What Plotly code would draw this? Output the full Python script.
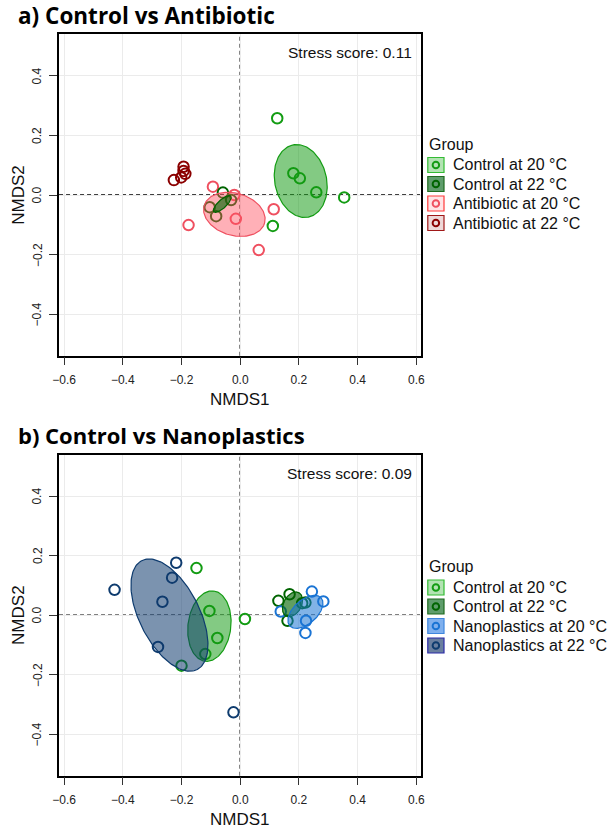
import numpy as np
import plotly.graph_objects as go

W, H = 612, 831

# ---------------- DATA ----------------
groups_a = ["Antibiotic at 20 °C", "Antibiotic at 22 °C", "Control at 20 °C", "Control at 22 °C"]
groups_b = ["Control at 20 °C", "Control at 22 °C", "Nanoplastics at 20 °C", "Nanoplastics at 22 °C"]

# Panel a points
a_ctrl20_x = [0.126, 0.181, 0.203, 0.259, 0.354, 0.111]
a_ctrl20_y = [0.258, 0.073, 0.056, 0.009, -0.008, -0.104]
a_ctrl22_x = [-0.104, -0.082, -0.059, -0.031]
a_ctrl22_y = [-0.041, -0.071, 0.008, -0.017]
a_anti20_x = [-0.093, -0.176, -0.015, -0.020, 0.114, 0.063]
a_anti20_y = [0.028, -0.101, -0.080, 0.000, -0.048, -0.185]
a_anti22_x = [-0.226, -0.201, -0.193, -0.193, -0.187]
a_anti22_y = [0.050, 0.059, 0.095, 0.081, 0.071]

# Panel b points
b_ctrl20_x = [-0.149, -0.105, -0.078, -0.200, 0.016, -0.119]
b_ctrl20_y = [0.158, 0.014, -0.077, -0.170, -0.013, -0.131]
b_ctrl22_x = [0.130, 0.168, 0.161, 0.211, 0.222]
b_ctrl22_y = [0.048, 0.070, -0.019, 0.040, 0.042]
b_nano20_x = [0.244, 0.283, 0.138, 0.224, 0.222]
b_nano20_y = [0.079, 0.046, 0.012, -0.019, -0.060]
b_nano22_x = [-0.218, -0.232, -0.428, -0.265, -0.280, -0.023]
b_nano22_y = [0.176, 0.126, 0.085, 0.045, -0.107, -0.327]

# Ellipse parameters: group, centre x, centre y, semi-axis a, semi-axis b, angle (deg)
ell_a_group = ["Antibiotic at 20 °C", "Control at 20 °C", "Control at 22 °C"]
ell_a_cx = [-0.020, 0.206, -0.061]
ell_a_cy = [-0.065, 0.047, -0.030]
ell_a_ra = [0.107, 0.124, 0.039]
ell_a_rb = [0.071, 0.088, 0.014]
ell_a_ang = [-15.7, 103.0, 42.0]

ell_b_group = ["Control at 20 °C", "Control at 22 °C", "Nanoplastics at 20 °C", "Nanoplastics at 22 °C"]
ell_b_cx = [-0.105, 0.178, 0.222, -0.241]
ell_b_cy = [-0.037, 0.036, 0.011, 0.000]
ell_b_ra = [0.119, 0.045, 0.071, 0.206]
ell_b_rb = [0.073, 0.030, 0.040, 0.102]
ell_b_ang = [83.0, 60.0, 41.0, -62.6]

stress_a = "Stress score: 0.11"
stress_b = "Stress score: 0.09"

x_ticks = [-0.6, -0.4, -0.2, 0.0, 0.2, 0.4, 0.6]
y_ticks = [-0.4, -0.2, 0.0, 0.2, 0.4]

# ---------------- STYLE ----------------
line_col = {
    "Control at 20 °C": "#139c13",
    "Control at 22 °C": "#006400",
    "Antibiotic at 20 °C": "#ef5060",
    "Antibiotic at 22 °C": "#8b0000",
    "Nanoplastics at 20 °C": "#1a74d4",
    "Nanoplastics at 22 °C": "#0e3b6e",
}
fill_col = {
    "Control at 20 °C": "rgba(17,154,17,0.52)",
    "Control at 22 °C": "rgba(0,100,0,0.62)",
    "Antibiotic at 20 °C": "rgba(255,80,95,0.45)",
    "Antibiotic at 22 °C": "rgba(139,0,0,0.5)",
    "Nanoplastics at 20 °C": "rgba(26,116,212,0.55)",
    "Nanoplastics at 22 °C": "rgba(14,59,110,0.55)",
}
key_fill = {
    "Control at 20 °C": "#b3e3b3",
    "Control at 22 °C": "#5f9d6c",
    "Antibiotic at 20 °C": "#ffe4e6",
    "Antibiotic at 22 °C": "#eed8d8",
    "Nanoplastics at 20 °C": "#7fb0ee",
    "Nanoplastics at 22 °C": "#6a7f9f",
}
key_border = {
    "Control at 20 °C": "#33bb33",
    "Control at 22 °C": "#1f6b1f",
    "Antibiotic at 20 °C": "#ff3a3a",
    "Antibiotic at 22 °C": "#a01818",
    "Nanoplastics at 20 °C": "#3f86de",
    "Nanoplastics at 22 °C": "#2b2ba8",
}

FONT = "Liberation Sans, Arial, sans-serif"


def px_x(px):
    return px / W


def px_y(py):
    return 1 - py / H


def ellipse(cx, cy, ra, rb, ang, n=160):
    t = np.linspace(0, 2 * np.pi, n)
    th = np.deg2rad(ang)
    x = cx + ra * np.cos(t) * np.cos(th) - rb * np.sin(t) * np.sin(th)
    y = cy + ra * np.cos(t) * np.sin(th) + rb * np.sin(t) * np.cos(th)
    return x, y


fig = go.Figure()

panels = [
    dict(xa="x", ya="y",
         pts=[("Antibiotic at 20 °C", a_anti20_x, a_anti20_y),
              ("Antibiotic at 22 °C", a_anti22_x, a_anti22_y),
              ("Control at 20 °C", a_ctrl20_x, a_ctrl20_y),
              ("Control at 22 °C", a_ctrl22_x, a_ctrl22_y)],
         ell=(ell_a_group, ell_a_cx, ell_a_cy, ell_a_ra, ell_a_rb, ell_a_ang)),
    dict(xa="x2", ya="y2",
         pts=[("Control at 20 °C", b_ctrl20_x, b_ctrl20_y),
              ("Control at 22 °C", b_ctrl22_x, b_ctrl22_y),
              ("Nanoplastics at 20 °C", b_nano20_x, b_nano20_y),
              ("Nanoplastics at 22 °C", b_nano22_x, b_nano22_y)],
         ell=(ell_b_group, ell_b_cx, ell_b_cy, ell_b_ra, ell_b_rb, ell_b_ang)),
]

for p in panels:
    for g, xs, ys in p["pts"]:
        fig.add_trace(go.Scatter(
            x=xs, y=ys, mode="markers", xaxis=p["xa"], yaxis=p["ya"],
            marker=dict(symbol="circle-open", size=10.5, color=line_col[g],
                        line=dict(width=2, color=line_col[g])),
            showlegend=False, hoverinfo="skip"))
    eg, ecx, ecy, era, erb, eang = p["ell"]
    for g, cx, cy, ra, rb, an in zip(eg, ecx, ecy, era, erb, eang):
        ex, ey = ellipse(cx, cy, ra, rb, an)
        fig.add_trace(go.Scatter(
            x=ex, y=ey, mode="lines", fill="toself", xaxis=p["xa"], yaxis=p["ya"],
            fillcolor=fill_col[g], line=dict(color=line_col[g], width=1.2),
            showlegend=False, hoverinfo="skip"))

# panel geometry (pixels)
box_left, box_right = 53, 421.7
pan_top = [34.3, 454.5]
pan_bot = [355.7, 775.7]

axis_common = dict(
    showgrid=True, gridcolor="#ebebeb", gridwidth=1,
    showline=True, mirror=True, linecolor="black", linewidth=1.5,
    ticks="outside", ticklen=8, tickwidth=1, tickcolor="#333333",
    zeroline=False,
    tickfont=dict(family=FONT, size=12, color="#222222"),
)


def fmt(v):
    s = f"{abs(v):.1f}"
    return ("\u2212" + s) if v < 0 else s


layout = dict(
    width=W, height=H, autosize=False,
    margin=dict(l=0, r=0, t=0, b=0, pad=0),
    paper_bgcolor="white", plot_bgcolor="white",
    showlegend=False,
)
for i, (xa, ya) in enumerate([("xaxis", "yaxis"), ("xaxis2", "yaxis2")]):
    xn = "x" if i == 0 else "x2"
    yn = "y" if i == 0 else "y2"
    layout[xa] = dict(axis_common, domain=[px_x(box_left), px_x(box_right)],
                      range=[-0.617, 0.616], anchor=yn,
                      tickvals=x_ticks, ticktext=[fmt(v) for v in x_ticks],
                      ticklabelstandoff=4)
    layout[ya] = dict(axis_common, domain=[px_y(pan_bot[i]), px_y(pan_top[i])],
                      range=[-0.54, 0.54], anchor=xn,
                      tickvals=y_ticks, showticklabels=False)
fig.update_layout(**layout)

shapes = []
annotations = []
for i in range(2):
    xn = "x" if i == 0 else "x2"
    yn = "y" if i == 0 else "y2"
    shapes.append(dict(type="line", xref=xn, yref=yn + " domain", x0=0, x1=0, y0=0, y1=1,
                       line=dict(color="black", width=1.4, dash="4px,3px"), layer="below"))
    shapes.append(dict(type="line", xref=xn + " domain", yref=yn, x0=0, x1=1, y0=0, y1=0,
                       line=dict(color="black", width=1.4, dash="4px,3px"), layer="below"))
    # rotated y tick labels, positioned on the y axis scale
    for v in y_ticks:
        annotations.append(dict(text=fmt(v), xref="paper", yref=yn, x=px_x(31), y=v,
                                showarrow=False, textangle=-90, xanchor="center",
                                yanchor="middle",
                                font=dict(family=FONT, size=12, color="#222222")))
    mid_y = (pan_top[i] + pan_bot[i]) / 2
    # axis titles
    annotations.append(dict(text="NMDS1", xref="paper", yref="paper",
                            x=px_x(237), y=px_y(pan_bot[i] + 44), showarrow=False,
                            xanchor="center", yanchor="middle",
                            font=dict(family=FONT, size=17, color="#111111")))
    annotations.append(dict(text="NMDS2", xref="paper", yref="paper",
                            x=px_x(11), y=px_y(mid_y), showarrow=False, textangle=-90,
                            xanchor="center", yanchor="middle",
                            font=dict(family=FONT, size=17, color="#111111")))

# Titles
annotations.append(dict(text="<b>a) Control vs Antibiotic</b>", xref="paper", yref="paper",
                        x=px_x(9), y=px_y(15), showarrow=False, xanchor="left", yanchor="middle",
                        font=dict(family="Open Sans, sans-serif", size=22.5, color="black")))
annotations.append(dict(text="<b>b) Control vs Nanoplastics</b>", xref="paper", yref="paper",
                        x=px_x(9), y=px_y(435), showarrow=False, xanchor="left", yanchor="middle",
                        font=dict(family="Open Sans, sans-serif", size=22, color="black")))

# Stress scores
for txt, py in [(stress_a, 53), (stress_b, 473)]:
    annotations.append(dict(text=txt, xref="paper", yref="paper", x=px_x(414), y=px_y(py),
                            showarrow=False, xanchor="right", yanchor="middle",
                            font=dict(family=FONT, size=15.5, color="#111111")))

# Legends (manual)
legend_groups = [["Control at 20 °C", "Control at 22 °C", "Antibiotic at 20 °C", "Antibiotic at 22 °C"],
                 ["Control at 20 °C", "Control at 22 °C", "Nanoplastics at 20 °C", "Nanoplastics at 22 °C"]]
legend_title_y = [144, 566.5]
row_offsets = [21, 40, 59.5, 79]
for i in range(2):
    annotations.append(dict(text="Group", xref="paper", yref="paper", x=px_x(427.5),
                            y=px_y(legend_title_y[i]), showarrow=False, xanchor="left",
                            yanchor="middle", font=dict(family=FONT, size=16, color="#111111")))
    for g, off in zip(legend_groups[i], row_offsets):
        cy = legend_title_y[i] + off
        shapes.append(dict(type="rect", xref="paper", yref="paper",
                           x0=px_x(428.5), x1=px_x(445), y0=px_y(cy + 7.5), y1=px_y(cy - 7.5),
                           fillcolor=key_fill[g], line=dict(color=key_border[g], width=1.2)))
        shapes.append(dict(type="circle", xref="paper", yref="paper",
                           x0=px_x(436.75 - 3.3), x1=px_x(436.75 + 3.3),
                           y0=px_y(cy + 3.3), y1=px_y(cy - 3.3),
                           fillcolor="rgba(0,0,0,0)", line=dict(color=line_col[g], width=2)))
        annotations.append(dict(text=g, xref="paper", yref="paper", x=px_x(452),
                                y=px_y(cy), showarrow=False, xanchor="left", yanchor="middle",
                                font=dict(family=FONT, size=16, color="#111111")))

fig.update_layout(shapes=shapes, annotations=annotations)
fig.write_html("out.html")
